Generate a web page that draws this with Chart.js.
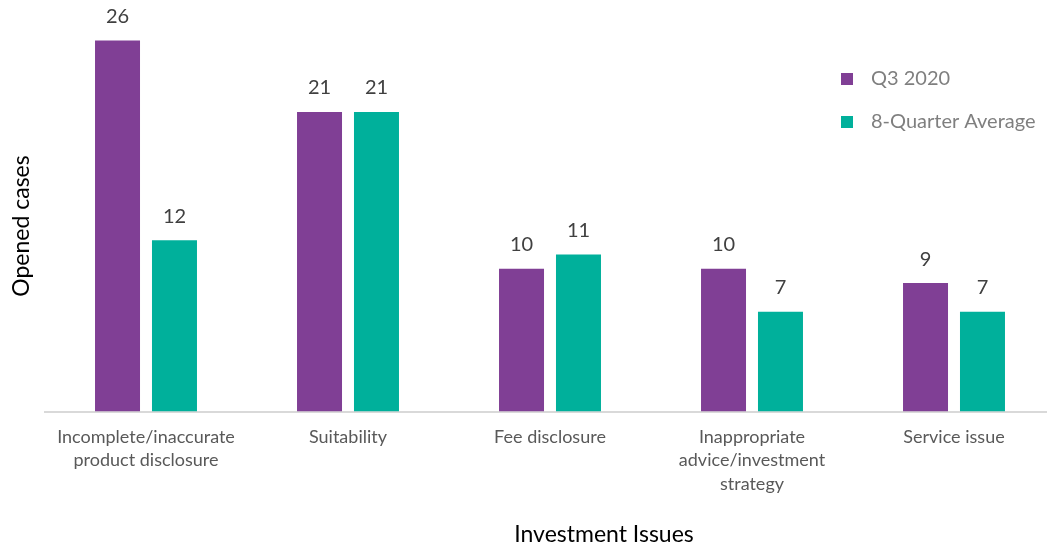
<!DOCTYPE html>
<html>
<head>
<meta charset="utf-8">
<script src="https://cdn.jsdelivr.net/npm/chart.js@4"></script>
<style>
  html, body { margin: 0; padding: 0; background: #fff; overflow: hidden; }
  #wrap { width: 1056px; height: 548px; }
</style>
</head>
<body>
<div id="wrap"><canvas id="c" width="1056" height="548"></canvas></div>
<script>
// Investment issues: opened cases this quarter vs. the 8-quarter average
const categories = [
  ['Incomplete/inaccurate', 'product disclosure'],
  'Suitability',
  'Fee disclosure',
  ['Inappropriate', 'advice/investment', 'strategy'],
  'Service issue'
];
const q3_2020 = [26, 21, 10, 10, 9];
const eightQuarterAvg = [12, 21, 11, 7, 7];
const seriesNames = ['Q3 2020', '8-Quarter Average'];
const seriesColors = ['#803F95', '#00B09B'];

const FONT = 'Lato, "Open Sans", sans-serif';

// value labels above each bar
const valueLabels = {
  id: 'valueLabels',
  afterDatasetsDraw(chart) {
    const ctx = chart.ctx;
    ctx.save();
    ctx.font = '20px ' + FONT;
    ctx.fillStyle = '#404040';
    ctx.textAlign = 'center';
    ctx.textBaseline = 'bottom';
    chart.data.datasets.forEach((ds, i) => {
      chart.getDatasetMeta(i).data.forEach((bar, j) => {
        ctx.fillText(String(ds.data[j]), bar.x, bar.y - 14);
      });
    });
    ctx.restore();
  }
};

// axis titles and the legend on the right
const decorations = {
  id: 'decorations',
  afterDraw(chart) {
    const ctx = chart.ctx;
    ctx.save();
    ctx.fillStyle = '#000';
    ctx.font = '23px ' + FONT;
    ctx.textAlign = 'center';
    ctx.textBaseline = 'middle';
    ctx.fillText('Investment Issues', 604, 535);
    ctx.translate(22, 226);
    ctx.rotate(-Math.PI / 2);
    ctx.fillText('Opened cases', 0, 0);
    ctx.restore();

    ctx.save();
    ctx.font = '20px ' + FONT;
    ctx.textBaseline = 'middle';
    ctx.textAlign = 'left';
    chart.data.datasets.forEach((ds, i) => {
      const y = 79 + i * 43;
      ctx.fillStyle = ds.backgroundColor;
      ctx.fillRect(841, y - 6, 12, 12);
      ctx.fillStyle = '#7F7F7F';
      ctx.fillText(ds.label, 871, y);
    });
    ctx.restore();
  }
};

new Chart(document.getElementById('c'), {
  type: 'bar',
  data: {
    labels: categories,
    datasets: [
      { label: seriesNames[0], data: q3_2020, backgroundColor: seriesColors[0] },
      { label: seriesNames[1], data: eightQuarterAvg, backgroundColor: seriesColors[1] }
    ]
  },
  options: {
    responsive: false,
    animation: false,
    layout: { padding: { top: 12, left: 45, right: 1, bottom: 0 } },
    datasets: { bar: { categoryPercentage: 0.564, barPercentage: 0.79 } },
    plugins: { legend: { display: false }, tooltip: { enabled: false } },
    scales: {
      x: {
        grid: { display: false, drawTicks: false },
        border: { display: true, color: '#D9D9D9', width: 2 },
        ticks: { color: '#595959', font: { family: FONT, size: 18, lineHeight: 1.3 }, padding: 14, maxRotation: 0 },
        afterFit(scale) { scale.height = 136.5; }
      },
      y: {
        display: false,
        min: 0,
        max: 28
      }
    }
  },
  plugins: [valueLabels, decorations]
});
</script>
</body>
</html>
